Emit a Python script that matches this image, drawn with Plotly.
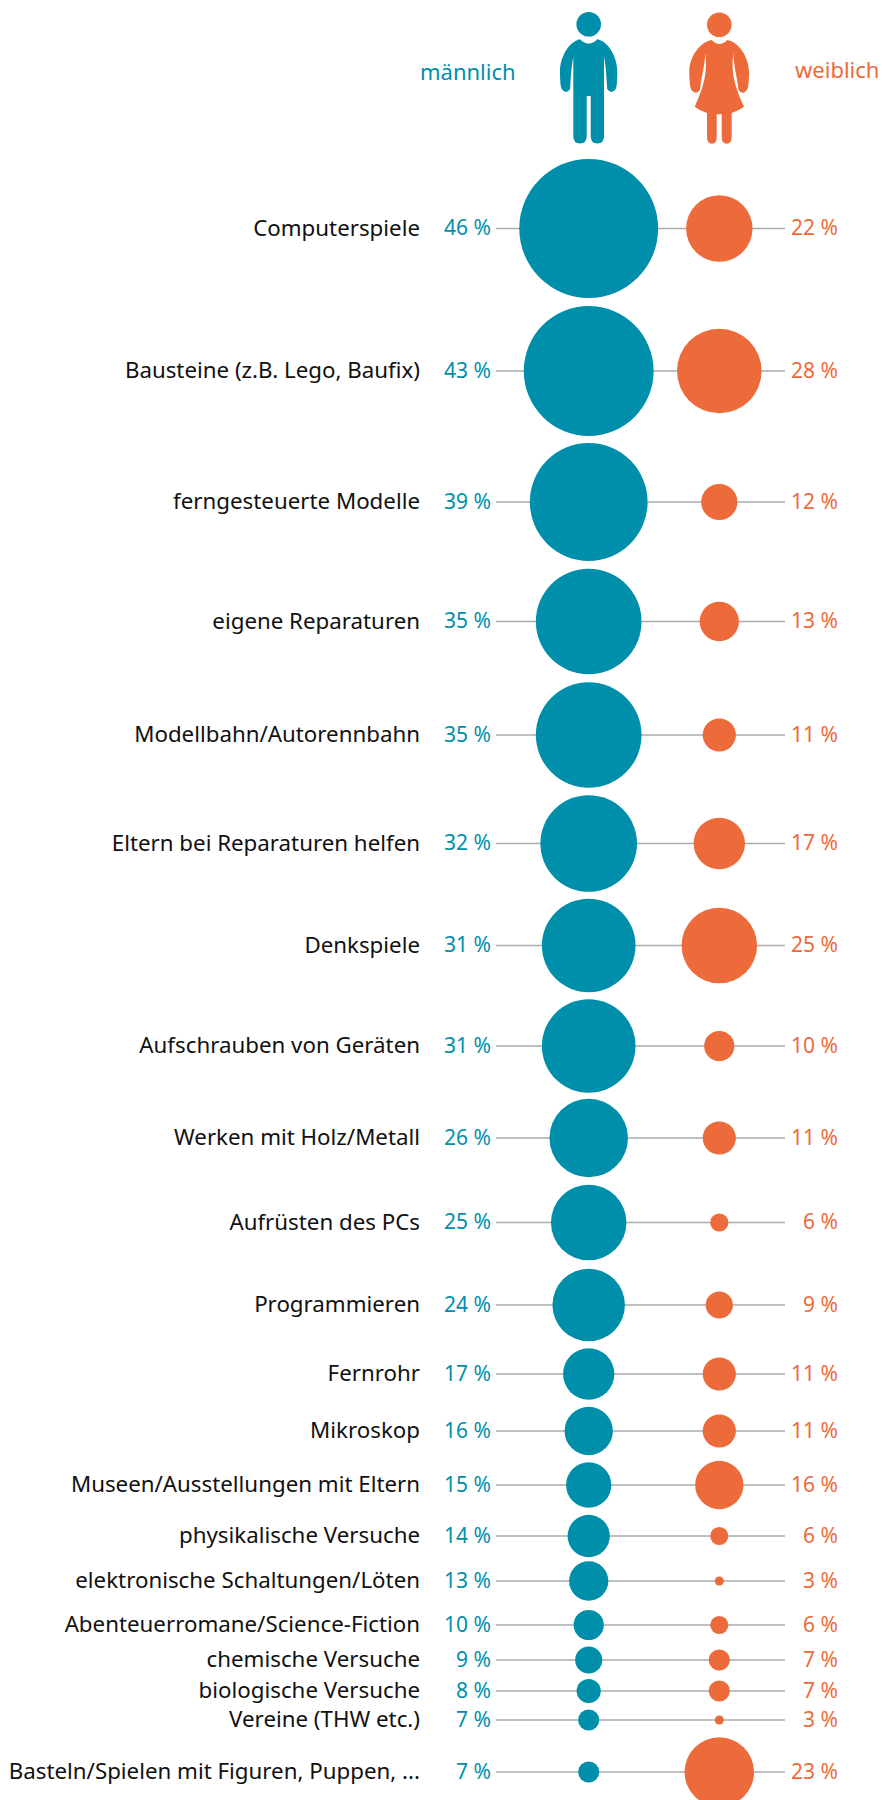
import plotly.graph_objects as go

categories = ["Computerspiele","Bausteine (z.B. Lego, Baufix)","ferngesteuerte Modelle","eigene Reparaturen",
 "Modellbahn/Autorennbahn","Eltern bei Reparaturen helfen","Denkspiele","Aufschrauben von Geräten",
 "Werken mit Holz/Metall","Aufrüsten des PCs","Programmieren","Fernrohr","Mikroskop",
 "Museen/Ausstellungen mit Eltern","physikalische Versuche","elektronische Schaltungen/Löten",
 "Abenteuerromane/Science-Fiction","chemische Versuche","biologische Versuche","Vereine (THW etc.)",
 "Basteln/Spielen mit Figuren, Puppen, ..."]
male = [46,43,39,35,35,32,31,31,26,25,24,17,16,15,14,13,10,9,8,7,7]
female = [22,28,12,13,11,17,25,10,11,6,9,11,11,16,6,3,6,7,7,3,23]
row_y = [228.5,371,502,621.5,735,843.5,945.5,1046,1138,1222.5,1305,1374,1431,1485,1536,1581,1625,1660,1691,1720,1772]

TEAL = "#008FAB"
ORANGE = "#ED6A3A"
GREY = "#ABABAB"
FONT = "Noto Sans"
PX_PER_PCT = 3.02
X_M, X_F = 588.7, 719.3
TEXT_SHIFT = 1.5

man = ("M 580 39.3 Q 588.7 48 597.3 39.3 C 608.3 41.7 617.3 56.7 617.3 71.7 C 617.3 80 617 86 615.7 89 "
       "Q 611.5 95 607.2 89 C 606.5 78 606 66 604 56.7 L 604 136 Q 604 143.5 597.3 143.5 "
       "Q 590.7 143.5 590.7 136 L 590.7 96 L 586.7 96 L 586.7 136 Q 586.7 143.5 580 143.5 "
       "Q 573.3 143.5 573.3 136 L 573.3 56.7 C 571.5 66 570.5 78 570.2 89 Q 566 95 561.7 89 "
       "C 560.4 86 560 80 560 71.7 C 560 56.7 569 41.7 580 39.3 Z")
woman = ("M 711.7 40 Q 719.3 48 727.3 40 C 738 42 749 56 749 72 C 749 80 748.5 86 747.5 89 "
         "Q 743 96 738.5 90 C 737.5 78 733.5 66 733.3 53 C 731 72 734 85 744 106.7 "
         "Q 738 111 731.7 113 L 731.7 137 Q 731.7 143.7 726.7 143.7 Q 721.7 143.7 721.7 137 "
         "L 721.7 114.3 L 716.7 114.3 L 716.7 137 Q 716.7 143.7 712 143.7 Q 707 143.7 707 137 "
         "L 707 113 Q 700 111 694.7 106.7 C 704.5 85 707.5 72 705.2 53 C 705 66 701 78 700 90 "
         "Q 695.5 96 691 89 C 690 86 689.3 80 689.3 72 C 689.3 56 700.5 42 711.7 40 Z")

fig = go.Figure()
xl, yl = [], []
for y in row_y:
    xl += [496, 785, None]
    yl += [y, y, None]
fig.add_trace(go.Scatter(x=xl, y=yl, mode="lines", line=dict(color=GREY, width=1.6), hoverinfo="skip"))
n = len(categories)
fig.add_trace(go.Scatter(x=[X_M]*n, y=row_y, mode="markers",
    marker=dict(color=TEAL, opacity=1, size=[v*PX_PER_PCT for v in male], line=dict(width=0))))
fig.add_trace(go.Scatter(x=[X_F]*n, y=row_y, mode="markers",
    marker=dict(color=ORANGE, opacity=1, size=[v*PX_PER_PCT for v in female], line=dict(width=0))))
text_y = [y + TEXT_SHIFT for y in row_y]
fig.add_trace(go.Scatter(x=[420]*n, y=text_y, mode="text", text=categories, textposition="middle left",
    textfont=dict(family=FONT, size=22.3, color="#111111")))
fig.add_trace(go.Scatter(x=[491]*n, y=text_y, mode="text", text=[f"{v} %" for v in male], textposition="middle left",
    textfont=dict(family=FONT, size=21, color=TEAL)))
fig.add_trace(go.Scatter(x=[838]*n, y=text_y, mode="text", text=[f"{v} %" for v in female], textposition="middle left",
    textfont=dict(family=FONT, size=21, color=ORANGE)))

anns = [dict(x=467.5, y=71, text="männlich", font=dict(family=FONT, size=22, color=TEAL)),
        dict(x=837, y=69, text="weiblich", font=dict(family=FONT, size=22, color=ORANGE))]
head = dict(type="circle", xref="x", yref="y", line=dict(width=0))
fig.update_layout(
    width=882, height=1800, margin=dict(l=0, r=0, t=0, b=0), showlegend=False,
    paper_bgcolor="white", plot_bgcolor="white",
    xaxis=dict(range=[0, 882], visible=False, fixedrange=True),
    yaxis=dict(range=[1800, 0], visible=False, fixedrange=True),
    annotations=[dict(a, xref="x", yref="y", showarrow=False) for a in anns],
    shapes=[dict(type="path", xref="x", yref="y", path=man, fillcolor=TEAL, line=dict(width=0)),
            dict(type="path", xref="x", yref="y", path=woman, fillcolor=ORANGE, line=dict(width=0)),
            dict(head, x0=576.4, x1=601, y0=12, y1=36.6, fillcolor=TEAL),
            dict(head, x0=707, x1=731.6, y0=12.4, y1=37, fillcolor=ORANGE)],
)
fig.write_html("out.html", config=dict(displayModeBar=False),
               post_script="document.body.style.margin='0';document.documentElement.style.overflow='hidden';")
